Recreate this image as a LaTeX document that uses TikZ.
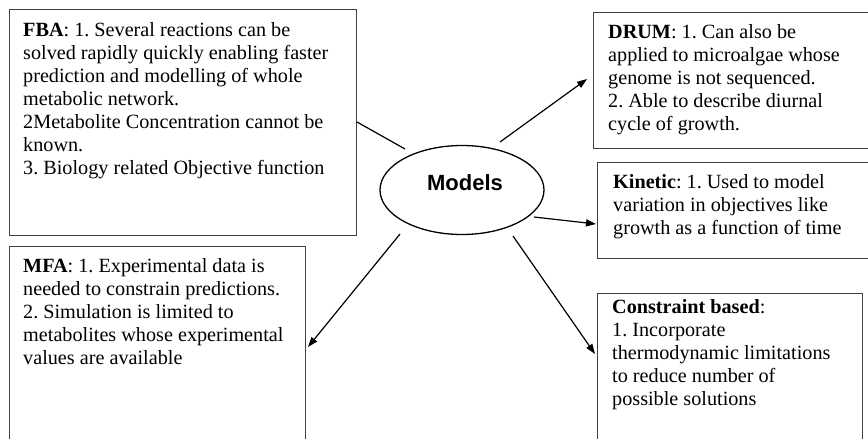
\documentclass[tikz,border=0pt]{standalone}
\usepackage{fontspec}
\setmainfont{Liberation Serif}
\newfontfamily\modelsfont{Liberation Sans}
\usetikzlibrary{arrows.meta,shapes.geometric}
\frenchspacing
\begin{document}
\begin{tikzpicture}[x=1pt,y=-1pt,
  box/.style={draw=black!75, line width=0.9pt, anchor=north west, inner sep=0pt, outer sep=0pt},
  txt/.style={anchor=north west, inner sep=0pt, align=left, font=\fontsize{20.2}{23}\selectfont\frenchspacing},
  conn/.style={line width=1.2pt},
  arr/.style={conn, -{Triangle[length=10pt,width=7pt]}}]
\clip (0,0) rectangle (868,439);
\fill[white] (0,0) rectangle (868,439);

% boxes
\node[box, minimum width=347pt, minimum height=226pt] (fba) at (9,9) {};
\node[box, minimum width=296pt, minimum height=210pt] (mfa) at (9,246) {};
\node[box, minimum width=290pt, minimum height=136pt] (drum) at (593,12) {};
\node[box, minimum width=290pt, minimum height=96pt] (kin) at (597,162) {};
\node[box, minimum width=265pt, minimum height=160pt] (cons) at (597,293) {};

% texts
\node[txt] (fbatext) at (23,20) {\strut\textbf{FBA}: 1. Several reactions can be\\
solved rapidly quickly enabling faster\\
prediction and modelling of whole\\
metabolic network.\\
2Metabolite Concentration cannot be\\
known.\\
3. Biology related Objective function};

\node[txt] (mfatext) at (23,256) {\strut\textbf{MFA}: 1. Experimental data is\\
needed to constrain predictions.\\
2. Simulation is limited to\\
metabolites whose experimental\\
values are available};

\node[txt] (drumtext) at (608,22) {\strut\textbf{DRUM}: 1. Can also be\\
applied to microalgae whose\\
genome is not sequenced.\\
2. Able to describe diurnal\\
cycle of growth.};

\node[txt] (kintext) at (613,172) {\strut\textbf{Kinetic}: 1. Used to model\\
variation in objectives like\\
growth as a function of time};

\node[txt] (constext) at (612,297) {\strut\textbf{Constraint based}:\\
1. Incorporate\\
thermodynamic limitations\\
to reduce number of\\
possible solutions};

% central ellipse
\node[draw, ellipse, line width=1.3pt, minimum width=164pt, minimum height=89pt, inner sep=0pt] (models) at (462,190) {};
\node[anchor=base, inner sep=0pt, font=\modelsfont\bfseries\fontsize{22}{26}\selectfont] (modelslabel) at (465,190) {Models};

% connector end points
\coordinate (fbaS) at (357,122);
\coordinate (fbaE) at (405,149);
\coordinate (drumS) at (500,142);
\coordinate (drumE) at (587,79);
\coordinate (kinS) at (534,217);
\coordinate (kinE) at (596,224);
\coordinate (consS) at (513,236);
\coordinate (consE) at (595,354);
\coordinate (mfaS) at (400,234);
\coordinate (mfaE) at (308,347);

\draw[conn] (fbaS) -- (fbaE);
\draw[arr] (drumS) -- (drumE);
\draw[arr] (kinS) -- (kinE);
\draw[arr] (consS) -- (consE);
\draw[arr] (mfaS) -- (mfaE);
\end{tikzpicture}
\end{document}
